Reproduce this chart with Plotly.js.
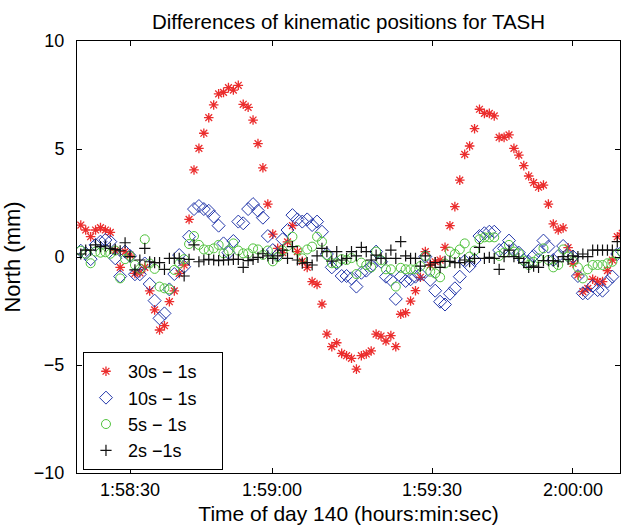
<!DOCTYPE html>
<html>
<head>
<meta charset="utf-8">
<script src="https://cdn.plot.ly/plotly-3.0.1.min.js"></script>
<style>html,body{margin:0;padding:0;background:#fff;}#chart{width:621px;height:531px;}</style>
</head>
<body>
<div id="chart"></div>
<script>
// Epoch times: seconds after 1:58:00 (day 140)
const seconds = [20,21,22,23,24,25,26,27,28,29,30,31,32,33,34,35,36,37,38,39,40,41,42,43,44,45,46,47,48,49,
  50,51,52,53,54,55,56,57,58,59,60,61,62,63,64,65,66,67,68,69,70,71,72,73,74,75,76,77,78,79,
  80,81,82,83,84,85,86,87,88,89,90,91,92,93,94,95,96,97,98,99,100,101,102,103,104,105,106,107,108,109,
  110,111,112,113,114,115,116,117,118,119,120,121,122,123,124,125,126,127,128,129,130];

// North differences (mm)
const diff30 = [1.48,1.25,0.94,1.25,1.36,1.25,1.14,0.3,-0.48,0.25,0.09,-0.76,-0.73,-0.48,-1.57,-2.45,-3.38,-3.18,-2.07,-1.57,
  -0.76,-0.37,1.74,4.03,5.03,5.73,6.45,7.04,7.55,7.62,7.84,7.73,7.95,7.07,6.93,6.34,5.25,4.13,2.45,1.06,
  0.4,0.2,0.7,1.45,0.25,-0.2,-0.48,-1.14,-1.27,-2.18,-3.57,-4.15,-3.97,-4.46,-4.57,-4.69,-5.19,-4.57,-4.49,-4.35,
  -3.57,-3.66,-3.89,-3.64,-4.15,-2.65,-2.58,-2.04,-1.56,-0.94,0.25,-0.37,-0.22,-0.14,0.45,1.45,2.33,3.56,4.75,5.14,
  5.94,6.84,6.65,6.65,6.53,5.54,5.54,5.65,5.03,4.72,4.23,3.75,3.44,3.23,3.33,2.45,1.53,1.25,1.35,0.43,
  -0.3,-0.83,-1.6,-1.45,-1.03,-1.14,-1.14,-0.63,-0.14,0.94,1.1];

const diff10 = [0.29,0.17,-0.1,0.56,0.71,0.79,0.71,-0.06,-0.9,0.25,0.05,-0.8,-0.8,-0.3,-1.25,-2.02,-2.84,-2.61,-1.5,-0.79,
  0.09,-0.45,0.94,2.22,2.36,2.22,2.14,1.87,1.45,0.63,0.2,0.74,1.64,1.56,2.22,2.45,2.14,1.82,0.97,0.32,
  0.1,0.82,1.25,1.94,1.74,1.64,1.74,1.48,1.64,1.17,0.14,-0.48,-0.29,-0.88,-0.88,-0.99,-1.37,-0.73,-0.63,-0.42,
  0.25,-0.22,-0.91,-1.06,-1.94,-0.91,-1.11,-1.03,-0.91,-0.8,0.02,-1.06,-1.56,-2.07,-2.2,-1.7,-1.45,-0.91,-0.19,-0.42,
  -0.14,0.97,1.1,1.17,1.17,0.32,0.4,0.76,0.32,0.2,-0.14,-0.22,0.05,0.29,0.76,0.48,-0.14,0.05,0.51,0.05,
  0.02,-0.88,-1.68,-1.68,-1.34,-1.53,-1.56,-1.14,-0.91,0.14,0.25];

const diff5 = [0.29,0.15,-0.29,0.25,0.2,0.22,0.15,0.3,-0.99,-0.1,0.05,-0.37,-0.55,0.82,-0.3,-0.55,-1.37,-1.45,-1.5,-0.6,
  -0.3,-0.1,0.6,0.97,0.56,0.35,0.32,0.4,0.56,0.17,0.3,0.63,0.3,0.17,0.17,0.4,0.35,0.1,0.3,-0.2,
  0.0,0.3,0.5,0.94,0.32,-0.06,0.35,0.48,0.94,0.71,0.09,-0.29,-0.29,-0.1,-0.14,-0.05,-0.79,-0.26,-0.37,-0.48,
  0.25,-0.15,-0.57,-0.57,-1.37,-0.5,-0.57,-0.57,-0.57,-0.42,0.05,-0.68,-0.76,-0.94,-0.3,0.25,0.14,0.35,0.63,0.02,
  0.3,0.82,0.91,0.91,0.91,0.05,0.2,0.56,0.25,0.17,-0.17,-0.37,-0.22,-0.06,0.4,-0.14,-0.48,-0.37,0.35,0.02,
  -0.2,-0.48,-0.99,-0.57,-0.37,-0.37,-0.37,-0.29,-0.22,0.14,0.2];

const diff2 = [0.14,0.32,0.32,0.56,0.48,0.51,0.4,0.35,0.29,0.66,0.02,-0.6,-0.14,0.4,-0.22,-0.26,-0.26,-0.57,-0.06,-0.06,
  -0.06,-0.88,-0.11,0.56,-0.22,-0.14,-0.11,-0.14,-0.17,-0.14,-0.14,-0.11,-0.11,-0.48,-0.17,-0.11,-0.02,0.15,0.05,-0.06,
  0.05,0.32,-0.06,0.48,-0.14,-0.29,-0.26,-0.37,0.05,0.4,0.25,-0.19,0.25,-0.14,-0.06,0.25,0.05,0.45,0.25,-0.14,
  0.09,-0.06,-0.06,0.32,-0.06,0.71,0.05,-0.06,-0.06,-0.42,0.05,-0.37,-0.26,-0.48,-0.2,-0.2,-0.26,-0.26,-0.14,-0.22,
  -0.06,0.45,-0.06,-0.02,-0.06,-0.57,0.02,0.32,0.02,-0.06,-0.26,-0.48,-0.42,-0.48,-0.17,-0.17,-0.17,-0.22,0.02,-0.11,
  0.05,0.02,0.14,0.02,0.32,0.32,0.32,0.32,0.32,0.71,0.3];

const seriesNames = ['30s \u2212 1s', '10s \u2212 1s', '5s \u2212 1s', '2s \u22121s'];
const legendPad = '\u00a0\u00a0\u00a0\u00a0';

// x tick positions (seconds after 1:58:00) and labels
const xTickVals = [30, 58.85, 91.36, 120.0];
const xTickText = ['1:58:30', '1:59:00', '1:59:30', '2:00:00'];
const yTickVals = [-10, -5, 0, 5, 10];

const FONT = 'Liberation Sans, Arial, Helvetica, sans-serif';

const traces = [
  {x: seconds, y: diff30, name: seriesNames[0] + legendPad, type: 'scatter', mode: 'markers',
   marker: {symbol: 'asterisk-open', size: 8, color: 'rgb(235,45,45)', line: {width: 1.3, color: 'rgb(235,45,45)'}}},
  {x: seconds, y: diff10, name: seriesNames[1] + legendPad, type: 'scatter', mode: 'markers',
   marker: {symbol: 'diamond-open', size: 10, color: 'rgb(35,55,170)', line: {width: 1, color: 'rgb(35,55,170)'}}},
  {x: seconds, y: diff5, name: seriesNames[2] + legendPad, type: 'scatter', mode: 'markers',
   marker: {symbol: 'circle-open', size: 9, color: 'rgb(80,195,60)', line: {width: 1, color: 'rgb(80,195,60)'}}},
  {x: seconds, y: diff2, name: seriesNames[3] + legendPad, type: 'scatter', mode: 'markers',
   marker: {symbol: 'cross-thin-open', size: 8, color: '#111', line: {width: 1.2, color: '#111'}}}
];

const layout = {
  width: 621, height: 531,
  margin: {l: 77, r: 1, t: 41, b: 58},
  paper_bgcolor: '#fff', plot_bgcolor: '#fff',
  font: {family: FONT, color: '#000', size: 18},
  showlegend: true,
  title: {text: 'Differences of kinematic positions for TASH', font: {family: FONT, size: 20.5, color: '#000'},
          xref: 'paper', x: 0.5, xanchor: 'center', yref: 'container', y: 0.958, yanchor: 'middle'},
  xaxis: {range: [19.23, 129.55], tickmode: 'array', tickvals: xTickVals, ticktext: xTickText,
          ticks: 'inside', ticklen: 5, tickcolor: '#000', showline: true, linecolor: '#000', linewidth: 1,
          mirror: 'ticks', showgrid: false, zeroline: false, tickfont: {size: 18, family: FONT},
          title: {text: 'Time of day 140 (hours:min:sec)', font: {size: 21, family: FONT}, standoff: 7}},
  yaxis: {range: [-10, 10], tickmode: 'array', tickvals: yTickVals,
          ticks: 'inside', ticklen: 5, tickcolor: '#000', showline: true, linecolor: '#000', linewidth: 1,
          mirror: 'ticks', showgrid: false, zeroline: false, tickfont: {size: 18, family: FONT},
          ticklabelstandoff: 8,
          title: {text: 'North (mm)', font: {size: 22, family: FONT}, standoff: 9}},
  legend: {x: 0.011, y: 0.28, xanchor: 'left', yanchor: 'top', bgcolor: '#fff', bordercolor: '#000', borderwidth: 1,
           font: {size: 18, family: FONT, color: '#000'}, itemwidth: 34, tracegroupgap: 0}
};

Plotly.newPlot('chart', traces, layout, {staticPlot: true, displayModeBar: false});
</script>
</body>
</html>
